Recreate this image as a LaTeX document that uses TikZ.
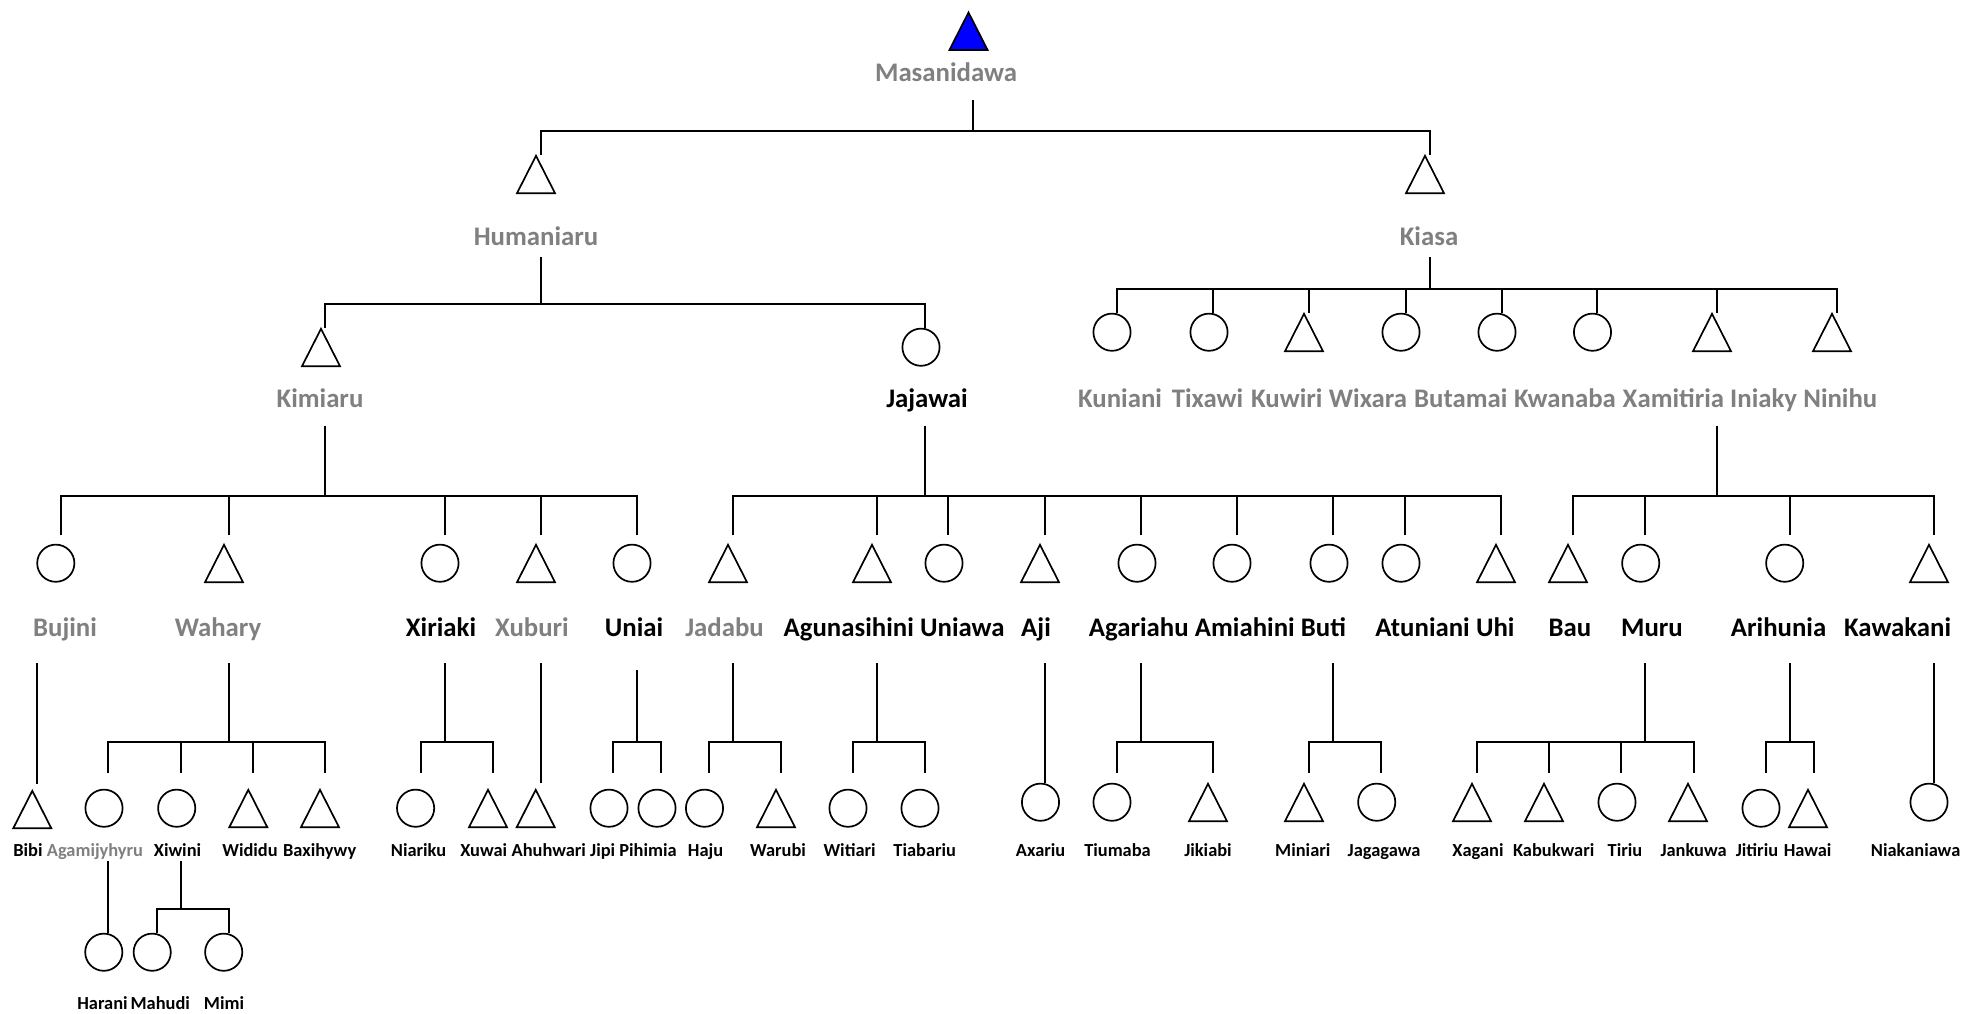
\documentclass[tikz,border=0pt]{standalone}
\usepackage{fontspec}
\setmainfont{Carlito}
\definecolor{gry}{RGB}{128,128,128}
\newcommand\lblbig{\fontsize{13.4}{16}\selectfont\bfseries}
\newcommand\lblsmall{\fontsize{9.2}{11}\selectfont\bfseries}
\tikzset{
  ln/.style={line width=0.9pt, draw=black},
  shp/.style={line width=0.85pt, draw=black},
  circ/.style={circle, draw=black, line width=0.85pt, minimum size=18.6pt, inner sep=0pt},
  lab/.style={anchor=base, inner sep=0pt, font=\lblbig, text=black},
  sm/.style={font=\lblsmall},
  gr/.style={text=gry}
}
% #1 c/t, #2 name, #3 shape x, #4 top y, #5 drop x, #6 drop end y
\newcommand{\Kid}[6]{%
  \coordinate (#2-in) at (#5,#6);
  \ifx c#1
    \node[circ] (#2-sh) at (#3,#4+19.2) {};
  \else
    \coordinate (#2-sh) at (#3,#4+0.8);
    \draw[shp] (#2-sh) -- ++(19,37.4) -- ++(-38,0) -- cycle;
  \fi}
% parent stem: name, x, top y, bar y
\newcommand{\Par}[4]{%
  \coordinate (#1-out) at (#2,#3);
  \coordinate (#1-bar) at (#2,#4);}
% family: parent, first child, last child
\newcommand{\Fam}[3]{%
  \draw[ln] (#1-out) -- (#1-bar);
  \draw[ln] (#2-in) |- (#1-bar) -| (#3-in);}
\newcommand{\Mid}[2]{%
  \foreach \c in {#2} {\draw[ln] (\c-in |- #1-bar) -- (\c-in);}}
\newcommand{\Lab}[5][]{\node[lab,#1] (#2) at (#4,#5) {#3};}
\begin{document}
\begin{tikzpicture}[x=0.5pt,y=-0.5pt]
\useasboundingbox (0,0) rectangle (1964,1013);
\fill[white] (0,0) rectangle (1964,1013);

% ---------- level 0
\coordinate (Masanidawa-sh) at (968.5,12.5);
\draw[shp, fill=blue] (Masanidawa-sh) -- ++(19,37.4) -- ++(-38,0) -- cycle;
\Lab[gr]{Masanidawa}{Masanidawa}{946}{81.7}
\Par{Masanidawa}{973}{100}{131}

% ---------- level 1
\Kid{t}{Humaniaru}{536}{155}{541}{155}
\Kid{t}{Kiasa}{1425}{155}{1430}{155}
\Fam{Masanidawa}{Humaniaru}{Kiasa}
\Lab[gr]{Humaniaru}{Humaniaru}{536}{245}
\Lab[gr]{Kiasa}{Kiasa}{1429}{245}
\Par{Humaniaru}{541}{257}{304}
\Par{Kiasa}{1430}{257}{289}

% ---------- level 2
\Kid{t}{Kimiaru}{321}{328}{325}{328}
\Kid{c}{Jajawai}{921}{328}{925}{328}
\Fam{Humaniaru}{Kimiaru}{Jajawai}
\Lab[gr]{Kimiaru}{Kimiaru}{320}{407}
\Lab{Jajawai}{Jajawai}{927}{407}

\Kid{c}{Kuniani}{1112}{313}{1117}{313}
\Kid{c}{Tixawi}{1209}{313}{1213}{313}
\Kid{t}{Kuwiri}{1304}{313}{1309}{313}
\Kid{c}{Wixara}{1401}{313}{1406}{313}
\Kid{c}{Butamai}{1497}{313}{1502}{313}
\Kid{c}{Kwanaba}{1592.5}{313}{1597}{313}
\Kid{t}{Xamitiria}{1712}{313}{1717}{313}
\Kid{t}{Ninihu}{1832}{313}{1837}{313}
\Fam{Kiasa}{Kuniani}{Ninihu}
\Mid{Kiasa}{Tixawi,Kuwiri,Wixara,Butamai,Kwanaba,Xamitiria}
\Lab[gr]{Kuniani}{Kuniani}{1120}{407}
\Lab[gr]{Tixawi}{Tixawi}{1207.5}{407}
\Lab[gr]{Kuwiri}{Kuwiri}{1286.7}{407}
\Lab[gr]{Wixara}{Wixara}{1368}{407}
\Lab[gr]{Butamai}{Butamai}{1460.8}{407}
\Lab[gr]{Kwanaba}{Kwanaba}{1565}{407}
\Lab[gr]{Xamitiria}{Xamitiria Iniaky}{1709.9}{407}
\Lab[gr]{Ninihu}{Ninihu}{1840.3}{407}

\Par{Kimiaru}{325}{426}{496}
\Par{Jajawai}{925}{426}{496}
\Par{Xamitiria}{1717}{426}{496}

% ---------- level 3
\Kid{c}{Bujini}{55.8}{544}{61}{535}
\Kid{t}{Wahary}{224}{544}{229}{535}
\Kid{c}{Xiriaki}{440}{544}{445}{535}
\Kid{t}{Xuburi}{536}{544}{541}{535}
\Kid{c}{Uniai}{632}{544}{637}{535}
\Fam{Kimiaru}{Bujini}{Uniai}
\Mid{Kimiaru}{Wahary,Xiriaki,Xuburi}

\Kid{t}{Jadabu}{728}{544}{733}{535}
\Kid{t}{Agunasihini}{872}{544}{877}{535}
\Kid{c}{Uniawa}{944}{544}{948}{535}
\Kid{t}{Aji}{1040}{544}{1045}{535}
\Kid{c}{Agariahu}{1137}{544}{1141}{535}
\Kid{c}{Amiahini}{1232}{544}{1237}{535}
\Kid{c}{Buti}{1329}{544}{1333}{535}
\Kid{c}{Atuniani}{1401}{544}{1405}{535}
\Kid{t}{Uhi}{1496}{544}{1501}{535}
\Fam{Jajawai}{Jadabu}{Uhi}
\Mid{Jajawai}{Agunasihini,Uniawa,Aji,Agariahu,Amiahini,Buti,Atuniani}

\Kid{t}{Bau}{1568}{544}{1573}{535}
\Kid{c}{Muru}{1640.7}{544}{1645}{535}
\Kid{c}{Arihunia}{1784.7}{544}{1790}{535}
\Kid{t}{Kawakani}{1929}{544}{1934}{535}
\Fam{Xamitiria}{Bau}{Kawakani}
\Mid{Xamitiria}{Muru,Arihunia}

\Lab[gr]{Bujini}{Bujini}{65}{636}
\Lab[gr]{Wahary}{Wahary}{218}{636}
\Lab{Xiriaki}{Xiriaki}{441}{636}
\Lab[gr]{Xuburi}{Xuburi}{532}{636}
\Lab{Uniai}{Uniai}{634}{636}
\Lab[gr]{Jadabu}{Jadabu}{724.5}{636}
\Lab{Agunasihini}{Agunasihini}{848.7}{636}
\Lab{Uniawa}{Uniawa}{962.3}{636}
\Lab{Aji}{Aji}{1036}{636}
\Lab{Agariahu}{Agariahu}{1138.7}{636}
\Lab{Amiahini}{Amiahini}{1244.8}{636}
\Lab{Buti}{Buti}{1323.4}{636}
\Lab{Atuniani}{Atuniani}{1422.6}{636}
\Lab{Uhi}{Uhi}{1495.3}{636}
\Lab{Bau}{Bau}{1570}{636}
\Lab{Muru}{Muru}{1652}{636}
\Lab{Arihunia}{Arihunia}{1778.6}{636}
\Lab{Kawakani}{Kawakani}{1897.6}{636}

\Par{Bujini}{37}{663}{663}
\Par{Wahary}{229}{663}{742}
\Par{Xiriaki}{445}{663}{742}
\Par{Xuburi}{541}{663}{663}
\Par{Uniai}{637}{670}{742}
\Par{Jadabu}{733}{663}{742}
\Par{Agunasihini}{877}{663}{742}
\Par{Aji}{1045}{663}{663}
\Par{Agariahu}{1141}{663}{742}
\Par{Buti}{1333}{663}{742}
\Par{Muru}{1645}{663}{742}
\Par{Arihunia}{1790}{663}{742}
\Par{Kawakani}{1934}{663}{663}

% ---------- level 4
\Kid{t}{Bibi}{32.3}{790}{37}{784}
\draw[ln] (Bujini-out) -- (Bibi-in);
\Kid{c}{Agamijyhyru}{104}{789}{108}{773}
\Kid{c}{Xiwini}{176.7}{789}{181}{773}
\Kid{t}{Wididu}{248.3}{789}{253}{773}
\Kid{t}{Baxihywy}{320}{789}{325}{773}
\Fam{Wahary}{Agamijyhyru}{Baxihywy}
\Mid{Wahary}{Xiwini,Wididu}
\Kid{c}{Niariku}{415.6}{789}{421}{773}
\Kid{t}{Xuwai}{488}{789}{493}{773}
\Fam{Xiriaki}{Niariku}{Xuwai}
\Kid{t}{Ahuhwari}{535.7}{789}{541}{783}
\draw[ln] (Xuburi-out) -- (Ahuhwari-in);
\Kid{c}{Jipi}{609}{789}{613}{773}
\Kid{c}{Pihimia}{657}{789}{661}{773}
\Fam{Uniai}{Jipi}{Pihimia}
\Kid{c}{Haju}{704.5}{789}{709}{773}
\Kid{t}{Warubi}{776}{789}{781}{773}
\Fam{Jadabu}{Haju}{Warubi}
\Kid{c}{Witiari}{848}{789}{853}{773}
\Kid{c}{Tiabariu}{920}{789}{925}{773}
\Fam{Agunasihini}{Witiari}{Tiabariu}
\Kid{c}{Axariu}{1040.5}{783}{1045}{783}
\draw[ln] (Aji-out) -- (Axariu-in);
\Kid{c}{Tiumaba}{1112}{783}{1117}{773}
\Kid{t}{Jikiabi}{1208}{783}{1213}{773}
\Fam{Agariahu}{Tiumaba}{Jikiabi}
\Kid{t}{Miniari}{1304}{783}{1309}{773}
\Kid{c}{Jagagawa}{1376.7}{783}{1381}{773}
\Fam{Buti}{Miniari}{Jagagawa}
\Kid{t}{Xagani}{1472}{783}{1477}{773}
\Kid{t}{Kabukwari}{1544}{783}{1549}{773}
\Kid{c}{Tiriu}{1617}{783}{1621}{773}
\Kid{t}{Jankuwa}{1688}{783}{1694}{773}
\Fam{Muru}{Xagani}{Jankuwa}
\Mid{Muru}{Kabukwari,Tiriu}
\Kid{c}{Jitiriu}{1761}{789}{1766}{773}
\Kid{t}{Hawai}{1808}{789}{1814}{773}
\Fam{Arihunia}{Jitiriu}{Hawai}
\Kid{c}{Niakaniawa}{1929}{783}{1934}{783}
\draw[ln] (Kawakani-out) -- (Niakaniawa-in);

\Lab[sm]{Bibi}{Bibi}{28}{856}
\Lab[sm,gr]{Agamijyhyru}{Agamijyhyru}{95}{856}
\Lab[sm]{Xiwini}{Xiwini}{177.5}{856}
\Lab[sm]{Wididu}{Wididu}{250}{856}
\Lab[sm]{Baxihywy}{Baxihywy}{319.7}{856}
\Lab[sm]{Niariku}{Niariku}{418.5}{856}
\Lab[sm]{Xuwai}{Xuwai}{483.7}{856}
\Lab[sm]{Ahuhwari}{Ahuhwari}{548.8}{856}
\Lab[sm]{Jipi}{Jipi}{602.7}{856}
\Lab[sm]{Pihimia}{Pihimia}{648}{856}
\Lab[sm]{Haju}{Haju}{705.6}{856}
\Lab[sm]{Warubi}{Warubi}{778}{856}
\Lab[sm]{Witiari}{Witiari}{849.6}{856}
\Lab[sm]{Tiabariu}{Tiabariu}{924.7}{856}
\Lab[sm]{Axariu}{Axariu}{1040.6}{856}
\Lab[sm]{Tiumaba}{Tiumaba}{1117.5}{856}
\Lab[sm]{Jikiabi}{Jikiabi}{1208}{856}
\Lab[sm]{Miniari}{Miniari}{1302.8}{856}
\Lab[sm]{Jagagawa}{Jagagawa}{1384}{856}
\Lab[sm]{Xagani}{Xagani}{1478}{856}
\Lab[sm]{Kabukwari}{Kabukwari}{1553.7}{856}
\Lab[sm]{Tiriu}{Tiriu}{1625}{856}
\Lab[sm]{Jankuwa}{Jankuwa}{1693.6}{856}
\Lab[sm]{Jitiriu}{Jitiriu}{1757}{856}
\Lab[sm]{Hawai}{Hawai}{1807.6}{856}
\Lab[sm]{Niakaniawa}{Niakaniawa}{1915.6}{856}

% ---------- level 5
\Par{Agamijyhyru}{108}{861}{861}
\Par{Xiwini}{181}{861}{909}
\Kid{c}{Harani}{103.8}{933}{108}{933}
\draw[ln] (Agamijyhyru-out) -- (Harani-in);
\Kid{c}{Mahudi}{152.2}{933}{157}{933}
\Kid{c}{Mimi}{223.7}{933}{229}{933}
\Fam{Xiwini}{Mahudi}{Mimi}
\Lab[sm]{Harani}{Harani}{102.5}{1009}
\Lab[sm]{Mahudi}{Mahudi}{160.3}{1009}
\Lab[sm]{Mimi}{Mimi}{224}{1009}
\end{tikzpicture}
\end{document}
